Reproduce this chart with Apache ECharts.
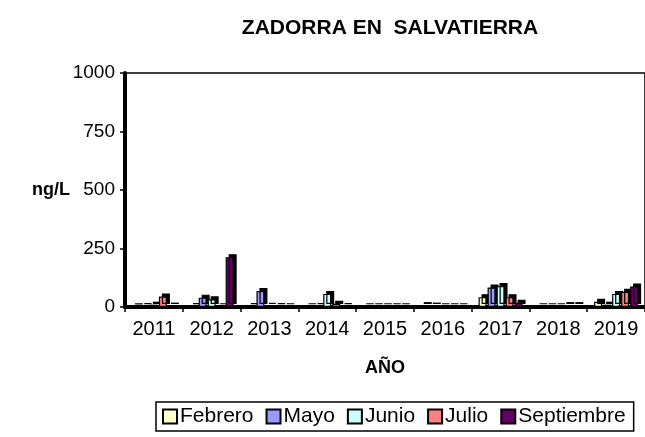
<!DOCTYPE html>
<html>
<head>
<meta charset="utf-8">
<script src="https://cdn.jsdelivr.net/npm/echarts@6/dist/echarts.min.js"></script>
<style>
  html, body { margin: 0; padding: 0; background: #fff; }
  #main { width: 645px; height: 437px; }
</style>
</head>
<body>
<div id="main"></div>
<script>
const years = ["2011", "2012", "2013", "2014", "2015", "2016", "2017", "2018", "2019"];
const febrero = [1, 3, 4, 2, 2, 8, 42, 2, 22];
const mayo = [3, 40, 68, 3, 2, 6, 83, 2, 10];
const junio = [10, 33, 5, 56, 2, 2, 90, 2, 56];
const julio = [45, 2, 3, 14, 2, 2, 42, 8, 65];
const septiembre = [6, 213, 2, 3, 2, 2, 18, 8, 88];
const yTicks = [0, 250, 500, 750, 1000];

const font = "Liberation Sans, Arial, sans-serif";
const chart = echarts.init(document.getElementById("main"));

const mkSeries = (name, data, color) => ({
    name: name,
    type: "bar",
    data: data,
    barWidth: 8,
    barGap: "12.5%",
    itemStyle: {
        color: color,
        borderColor: "#000",
        borderWidth: 1.2,
        shadowColor: "#000",
        shadowOffsetX: 3,
        shadowOffsetY: -3,
        shadowBlur: 0
    }
});

chart.setOption({
    animation: false,
    title: {
        text: "ZADORRA EN  SALVATIERRA",
        left: 385,
        textAlign: "center",
        top: 13,
        textStyle: { fontFamily: font, fontSize: 21, fontWeight: "bold", color: "#000" }
    },
    grid: {
        left: 125, top: 73, width: 522, height: 234,
        show: true, borderColor: "#000", borderWidth: 1.5
    },
    legend: {
        left: 156, top: 402,
        itemWidth: 14, itemHeight: 14, itemGap: 12,
        padding: [4, 8, 4, 6],
        borderColor: "#000", borderWidth: 1.5,
        icon: "rect",
        textStyle: { fontFamily: font, fontSize: 21, color: "#000", padding: [0, 0, 0, -2] }
    },
    xAxis: {
        type: "category",
        data: years,
        name: "AÑO",
        nameLocation: "middle",
        nameGap: 52,
        nameMoveOverlap: false,
        nameTextStyle: { fontFamily: font, fontSize: 18, fontWeight: "bold", color: "#000" },
        axisLine: { lineStyle: { color: "#000", width: 4 } },
        axisTick: { show: true, length: 5, lineStyle: { color: "#000", width: 1.5 } },
        axisLabel: { interval: 0, fontFamily: font, fontSize: 20, color: "#000", margin: 12 }
    },
    yAxis: {
        type: "value",
        min: 0, max: 1000, interval: 250,
        name: "ng/L",
        nameLocation: "middle",
        nameRotate: 0,
        nameGap: 55,
        nameMoveOverlap: false,
        nameTextStyle: { fontFamily: font, fontSize: 18, fontWeight: "bold", color: "#000" },
        axisLine: { show: true, lineStyle: { color: "#000", width: 4 } },
        axisTick: { show: true, length: 5, lineStyle: { color: "#000", width: 1.5 } },
        splitLine: { show: false },
        axisLabel: {
            fontFamily: font, fontSize: 19, color: "#000", margin: 10,
            formatter: (v) => (yTicks.includes(v) ? String(v) : "")
        }
    },
    series: [
        mkSeries("Febrero", febrero, "#FFFFCC"),
        mkSeries("Mayo", mayo, "#9999FF"),
        mkSeries("Junio", junio, "#CCFFFF"),
        mkSeries("Julio", julio, "#FF8080"),
        mkSeries("Septiembre", septiembre, "#660066")
    ]
});
</script>
</body>
</html>
